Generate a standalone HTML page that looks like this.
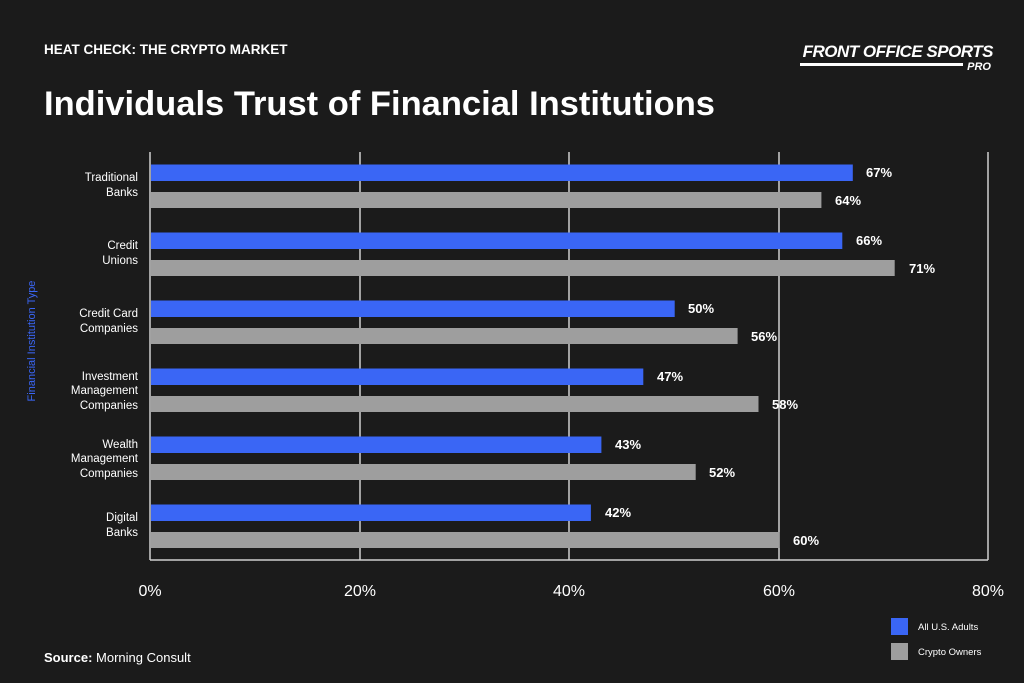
<!DOCTYPE html>
<html><head><style>
body{margin:0;background:#1b1b1b;}
svg{display:block;font-family:"Liberation Sans",sans-serif;}
</style></head><body>
<svg width="1024" height="683" viewBox="0 0 1024 683" xmlns="http://www.w3.org/2000/svg">
<rect width="1024" height="683" fill="#1b1b1b"/>
<text x="44" y="54" fill="#fff" font-size="13.5" font-weight="bold">HEAT CHECK: THE CRYPTO MARKET</text>
<text x="44" y="115" fill="#fff" font-size="34" font-weight="bold" textLength="671" lengthAdjust="spacingAndGlyphs">Individuals Trust of Financial Institutions</text>
<text x="993" y="57" fill="#fff" font-size="17" font-weight="bold" font-style="italic" text-anchor="end" letter-spacing="-0.5">FRONT OFFICE SPORTS</text>
<rect x="800" y="63" width="163" height="3" fill="#fff"/>
<text x="991" y="70" fill="#fff" font-size="11" font-weight="bold" font-style="italic" text-anchor="end">PRO</text>
<g stroke="#d0d0d0" stroke-width="1.5">
<line x1="150" y1="152" x2="150" y2="560"/>
<line x1="360" y1="152" x2="360" y2="560"/>
<line x1="569" y1="152" x2="569" y2="560"/>
<line x1="779" y1="152" x2="779" y2="560"/>
<line x1="988" y1="152" x2="988" y2="560"/>
<line x1="150" y1="560" x2="988" y2="560"/>
</g>
<g font-size="16" fill="#fff" text-anchor="middle">
<text x="150" y="596">0%</text><text x="360" y="596">20%</text><text x="569" y="596">40%</text><text x="779" y="596">60%</text><text x="988" y="596">80%</text>
</g>
<text transform="translate(35,341) rotate(-90)" fill="#3a66f5" font-size="11" text-anchor="middle">Financial Institution Type</text>
<g font-size="11.5" fill="#fff" text-anchor="end">
<text x="138" y="181">Traditional</text><text x="138" y="196">Banks</text>
<text x="138" y="249">Credit</text><text x="138" y="264">Unions</text>
<text x="138" y="317">Credit Card</text><text x="138" y="332">Companies</text>
<text x="138" y="380">Investment</text><text x="138" y="394">Management</text><text x="138" y="409">Companies</text>
<text x="138" y="448">Wealth</text><text x="138" y="462">Management</text><text x="138" y="477">Companies</text>
<text x="138" y="521">Digital</text><text x="138" y="536">Banks</text>
</g>
<g fill="#3a66f5">
<rect x="151" y="164.5" width="701.8" height="16.5"/>
<rect x="151" y="232.5" width="691.3" height="16.5"/>
<rect x="151" y="300.5" width="523.7" height="16.5"/>
<rect x="151" y="368.5" width="492.3" height="16.5"/>
<rect x="151" y="436.5" width="450.4" height="16.5"/>
<rect x="151" y="504.5" width="439.9" height="16.5"/>
</g>
<g fill="#9e9e9e">
<rect x="151" y="192" width="670.4" height="16"/>
<rect x="151" y="260" width="743.7" height="16"/>
<rect x="151" y="328" width="586.6" height="16"/>
<rect x="151" y="396" width="607.5" height="16"/>
<rect x="151" y="464" width="544.7" height="16"/>
<rect x="151" y="532" width="628.5" height="16"/>
</g>
<g font-size="13" font-weight="bold" fill="#fff">
<text x="866" y="177">67%</text><text x="835" y="205">64%</text>
<text x="856" y="245">66%</text><text x="909" y="273">71%</text>
<text x="688" y="313">50%</text><text x="751" y="341">56%</text>
<text x="657" y="381">47%</text><text x="772" y="409">58%</text>
<text x="615" y="449">43%</text><text x="709" y="477">52%</text>
<text x="605" y="517">42%</text><text x="793" y="545">60%</text>
</g>
<rect x="891" y="618" width="17" height="17" fill="#3a66f5"/>
<text x="918" y="630" fill="#fff" font-size="9.5">All U.S. Adults</text>
<rect x="891" y="643" width="17" height="17" fill="#9e9e9e"/>
<text x="918" y="655" fill="#fff" font-size="9.5">Crypto Owners</text>
<text x="44" y="662" fill="#fff" font-size="13"><tspan font-weight="bold">Source:</tspan> Morning Consult</text>
</svg>
</body></html>
